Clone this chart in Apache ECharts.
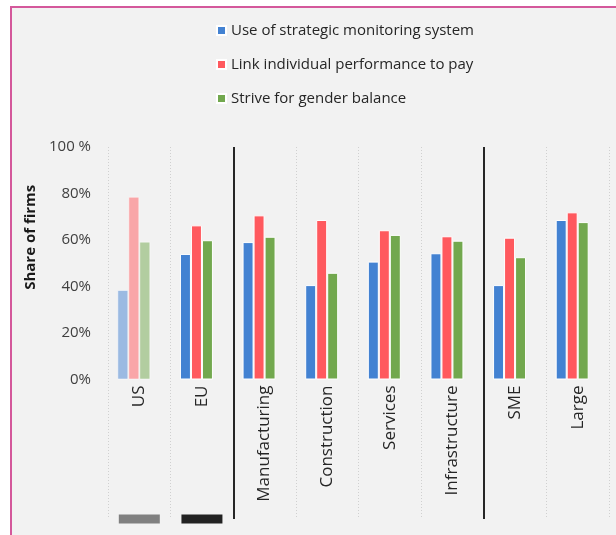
<!DOCTYPE html>
<html>
<head>
<meta charset="utf-8">
<script src="https://cdn.jsdelivr.net/npm/echarts@6/dist/echarts.min.js"></script>
<style>
  html, body { margin: 0; padding: 0; background: #ffffff; }
  #frame { position: absolute; left: 10px; top: 6px; width: 640px; height: 560px;
           background: #f2f2f2; border-left: 2px solid #d4589b; border-top: 2px solid #d4589b; }
  #chart { position: absolute; left: 0; top: 0; width: 616px; height: 535px; }
</style>
</head>
<body>
<div id="frame"></div>
<div id="chart"></div>
<script>
// ---- data ----
const categories = ['US', 'EU', 'Manufacturing', 'Construction', 'Services', 'Infrastructure', 'SME', 'Large'];
const seriesNames = ['Use of strategic monitoring system', 'Link individual performance to pay', 'Strive for gender balance'];
const monitoringValues = [38.5, 54.0, 59.1, 40.6, 50.7, 54.3, 40.6, 68.6];
const performancePayValues = [78.6, 66.3, 70.6, 68.6, 64.2, 61.6, 61.0, 71.9];
const genderBalanceValues = [59.3, 59.9, 61.4, 45.9, 62.2, 59.7, 52.6, 67.7];
const fadedCategories = ['US'];
const dividerAfter = ['EU', 'Infrastructure'];
const footerCategories = ['US', 'EU'];
const yTicks = [0, 20, 40, 60, 80, 100];
const yTickLabels = ['0%', '20%', '40%', '60%', '80%', '100 %'];
const yName = 'Share of firms';

// ---- styles ----
const colors = ['#4382d2', '#ff595e', '#72a84e'];
const footerColors = ['#808080', '#222222'];
const FONT = 'Open Sans';

const chart = echarts.init(document.getElementById('chart'), null, { renderer: 'canvas' });

function barData(vals) {
  return vals.map((v, i) => fadedCategories.includes(categories[i])
    ? { value: v, itemStyle: { opacity: 0.5 } }
    : v);
}

const barSeries = [monitoringValues, performancePayValues, genderBalanceValues].map((vals, k) => ({
  name: seriesNames[k],
  type: 'bar',
  xAxisIndex: 0,
  yAxisIndex: 0,
  barWidth: 11,
  barGap: '0%',
  itemStyle: { color: colors[k], borderColor: '#ffffff', borderWidth: 1 },
  data: barData(vals)
}));

// empty fourth bar slot, as in the original chart layout
barSeries.push({
  name: 'placeholder',
  type: 'bar',
  xAxisIndex: 0,
  yAxisIndex: 0,
  barWidth: 11,
  barGap: '0%',
  data: categories.map(() => '-')
});

const option = {
  backgroundColor: 'transparent',
  animation: false,
  textStyle: { fontFamily: FONT },
  legend: {
    data: seriesNames,
    orient: 'vertical',
    left: 211,
    top: 18,
    itemWidth: 9,
    itemHeight: 9,
    itemGap: 19,
    icon: 'rect',
    textStyle: { fontFamily: FONT, fontSize: 15, color: '#262626' }
  },
  grid: [
    { left: 108, right: 7, top: 147, bottom: 155.5, containLabel: false, outerBoundsMode: 'none' },
    { left: 108, right: 7, top: 147, bottom: 16, containLabel: false, outerBoundsMode: 'none' }
  ],
  xAxis: [{
    type: 'category',
    gridIndex: 0,
    data: categories,
    boundaryGap: true,
    axisLine: { show: false },
    axisTick: { show: false },
    axisLabel: { rotate: 90, margin: 6, fontSize: 17, color: '#262626', fontFamily: FONT, interval: 0 },
    splitLine: { show: false }
  }, {
    type: 'category',
    gridIndex: 1,
    data: categories,
    boundaryGap: true,
    axisLine: { show: false },
    axisTick: { show: false },
    axisLabel: { show: false },
    splitLine: { show: true, interval: 0, lineStyle: { color: '#d0d0d0', type: [1, 2], width: 1 } }
  }, {
    type: 'value',
    gridIndex: 1,
    min: 0,
    max: categories.length,
    show: false
  }],
  yAxis: [{
    type: 'value',
    gridIndex: 0,
    min: 0,
    max: 100,
    interval: 20,
    axisLine: { show: false },
    axisTick: { show: false },
    splitLine: { show: false },
    axisLabel: {
      margin: 17,
      fontSize: 15,
      color: '#404040',
      fontFamily: FONT,
      formatter: v => { const i = yTicks.indexOf(v); return i >= 0 ? yTickLabels[i] : ''; }
    },
    name: yName,
    nameLocation: 'middle',
    nameGap: 64,
    nameTextStyle: { fontFamily: FONT, fontSize: 15, fontWeight: 'bold', color: '#1a1a1a', padding: [0, 0, 0, 52] }
  }, {
    type: 'value',
    gridIndex: 1,
    min: 0,
    max: 1,
    show: false
  }],
  series: barSeries.concat([{
    name: 'footer',
    type: 'scatter',
    xAxisIndex: 1,
    yAxisIndex: 1,
    symbol: 'rect',
    symbolSize: [41, 9],
    silent: true,
    itemStyle: { opacity: 1 },
    data: footerCategories.map((c, i) => ({ value: [c, 0], itemStyle: { color: footerColors[i], opacity: 1 } })),
    z: 5
  }, {
    name: 'dividers',
    type: 'scatter',
    xAxisIndex: 2,
    yAxisIndex: 1,
    data: [],
    silent: true,
    markLine: {
      silent: true,
      symbol: 'none',
      label: { show: false },
      lineStyle: { color: '#262626', width: 2, type: 'solid' },
      data: dividerAfter.map(c => ({ xAxis: categories.indexOf(c) + 1 }))
    }
  }])
};
chart.setOption(option);
</script>
</body>
</html>
